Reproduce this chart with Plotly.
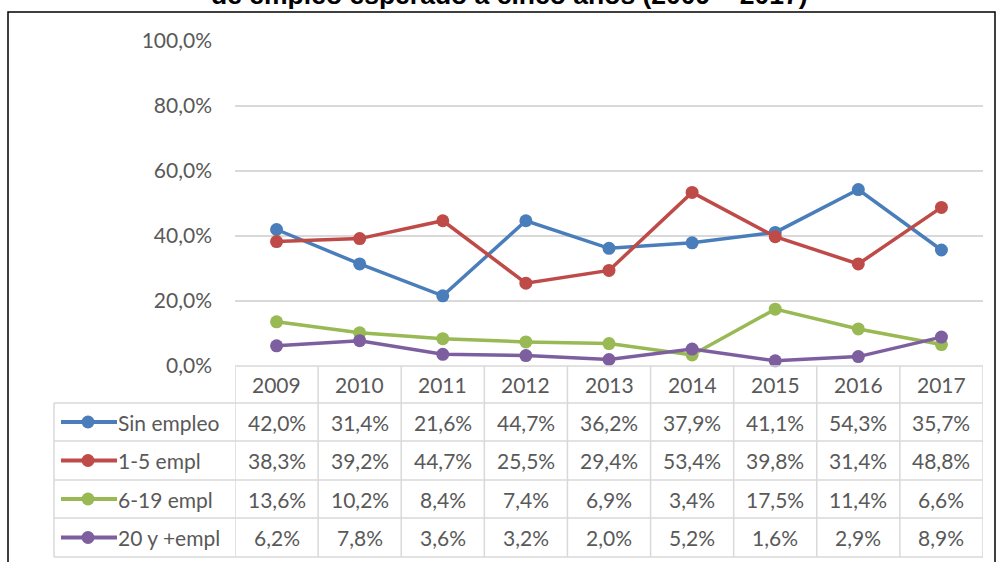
import plotly.graph_objects as go

years = ["2009", "2010", "2011", "2012", "2013", "2014", "2015", "2016", "2017"]
series_names = ["Sin empleo", "1-5 empl", "6-19 empl", "20 y +empl"]
sin_empleo = [42.0, 31.4, 21.6, 44.7, 36.2, 37.9, 41.1, 54.3, 35.7]
empl_1_5 = [38.3, 39.2, 44.7, 25.5, 29.4, 53.4, 39.8, 31.4, 48.8]
empl_6_19 = [13.6, 10.2, 8.4, 7.4, 6.9, 3.4, 17.5, 11.4, 6.6]
empl_20 = [6.2, 7.8, 3.6, 3.2, 2.0, 5.2, 1.6, 2.9, 8.9]
series_values = [sin_empleo, empl_1_5, empl_6_19, empl_20]
colors = ["#4A7EBB", "#BE4B48", "#98B954", "#7D5FA0"]
y_ticks = [0, 20, 40, 60, 80, 100]
y_ticktext = ["0,0%", "20,0%", "40,0%", "60,0%", "80,0%", "100,0%"]
title_text = "de empleo esperado a cinco años (2009 – 2017)"

W, H = 998, 562
FONT = "Lato"
FS = 21
TXT = "#595959"
GRID = "#D9D9D9"

def px(x):
    return x / W

def py(y):
    return 1 - y / H

fig = go.Figure()
for name, vals, c in zip(series_names, series_values, colors):
    fig.add_trace(go.Scatter(
        x=list(range(len(years))), y=vals, name=name, mode="lines+markers",
        line=dict(color=c, width=3.5),
        marker=dict(color=c, size=13),
        showlegend=False, cliponaxis=False,
    ))

shapes = []
annotations = []

# frame
shapes.append(dict(type="rect", xref="paper", yref="paper",
                   x0=px(8), x1=px(995), y0=py(600), y1=py(12),
                   line=dict(color="black", width=1.5), layer="below"))

# table geometry
row_edges = [366, 403, 441, 480, 518, 557]
table_left = 54
shapes.append(dict(type="line", xref="x", yref="paper", x0=-0.5, x1=len(years) - 0.5,
                   y0=py(row_edges[0]), y1=py(row_edges[0]), line=dict(color=GRID, width=1.5)))
for ry in row_edges[1:]:
    shapes.append(dict(type="line", xref="paper", yref="paper", x0=px(table_left), x1=px(983),
                       y0=py(ry), y1=py(ry), line=dict(color=GRID, width=1.5)))
shapes.append(dict(type="line", xref="paper", yref="paper", x0=px(table_left), x1=px(table_left),
                   y0=py(row_edges[1]), y1=py(row_edges[-1]), line=dict(color=GRID, width=1.5)))
for i in range(len(years) + 1):
    shapes.append(dict(type="line", xref="x", yref="paper", x0=i - 0.5, x1=i - 0.5,
                       y0=py(row_edges[0]), y1=py(row_edges[-1]), line=dict(color=GRID, width=1.5)))

# header
hy = (row_edges[0] + row_edges[1]) / 2
for i, yr in enumerate(years):
    annotations.append(dict(x=i, y=py(hy), xref="x", yref="paper", text=yr, showarrow=False,
                            font=dict(family=FONT, size=FS, color=TXT), xanchor="center", yanchor="middle"))

# rows
for r, (name, vals, c) in enumerate(zip(series_names, series_values, colors)):
    cy = (row_edges[r + 1] + row_edges[r + 2]) / 2
    shapes.append(dict(type="line", xref="paper", yref="paper", x0=px(61), x1=px(117),
                       y0=py(cy), y1=py(cy), line=dict(color=c, width=4)))
    shapes.append(dict(type="circle", xref="paper", yref="paper", x0=px(81.5), x1=px(94.5),
                       y0=py(cy + 6.5), y1=py(cy - 6.5), line=dict(color=c, width=0), fillcolor=c))
    annotations.append(dict(x=px(116), y=py(cy), xref="paper", yref="paper", text=name, showarrow=False,
                            font=dict(family=FONT, size=FS, color=TXT), xanchor="left", yanchor="middle"))
    for i, v in enumerate(vals):
        annotations.append(dict(x=i, y=py(cy), xref="x", yref="paper",
                                text=f"{v:.1f}%".replace(".", ","), showarrow=False,
                                font=dict(family=FONT, size=FS, color=TXT), xanchor="center", yanchor="middle"))

# title (cut at top, as in the reference)
annotations.append(dict(x=px(509), y=py(-5.5), xref="paper", yref="paper", text="<b>" + title_text + "</b>",
                        showarrow=False, font=dict(family="Liberation Sans, Arial", size=26.5, color="black"),
                        xanchor="center", yanchor="middle"))

fig.update_layout(
    width=W, height=H,
    margin=dict(l=0, r=0, t=0, b=0, autoexpand=False),
    paper_bgcolor="white", plot_bgcolor="white",
    shapes=shapes, annotations=annotations,
    xaxis=dict(domain=[px(235), px(983)], range=[-0.5, len(years) - 0.5],
               showticklabels=False, showgrid=False, automargin=False,
               zeroline=False, showline=False, ticks=""),
    yaxis=dict(domain=[py(366), py(41)], range=[0, 100], tickvals=y_ticks, ticktext=y_ticktext,
               showgrid=True, gridcolor=GRID, gridwidth=1.5, zeroline=False, showline=False,
               ticks="", ticklabelstandoff=22, automargin=False,
               tickfont=dict(family=FONT, size=FS, color=TXT)),
)

fig.write_html("out.html", config={"displayModeBar": False},
               post_script="document.body.style.margin='0';document.body.style.overflow='hidden';")
